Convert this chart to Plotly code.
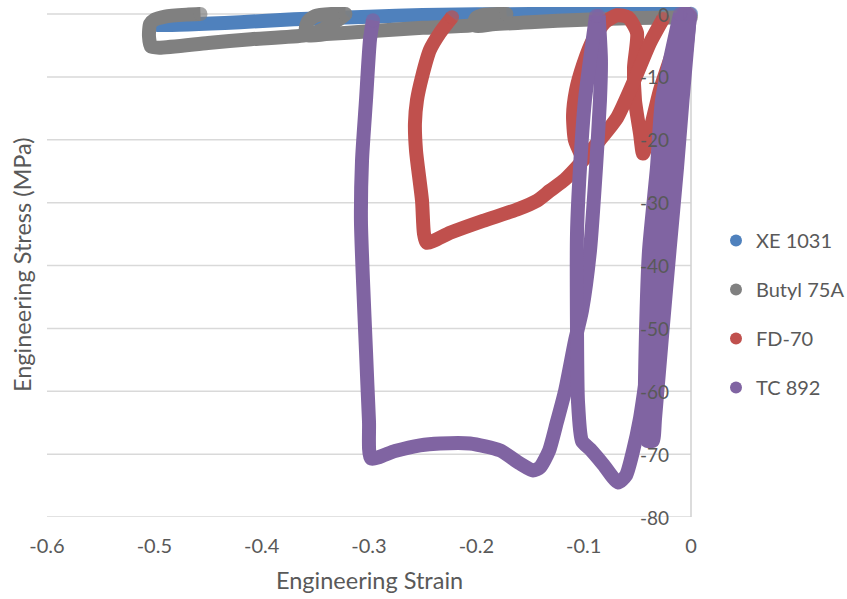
import plotly.graph_objects as go

# ---------------- data (Engineering Strain, Engineering Stress MPa) ----------------
series_names = ["XE 1031", "Butyl 75A", "FD-70", "TC 892"]
series_colors = ["#4F81BD", "#808080", "#C0504D", "#8064A2"]

xe_strain = [-0.503, -0.495, -0.42, -0.37, -0.30, -0.25, -0.15, -0.08, 0.0]
xe_stress = [-1.6, -1.75, -1.3, -0.85, -0.45, -0.15, 0.0, 0.05, 0.05]

butyl_strain = [0.0, -0.05, -0.10, -0.15, -0.185, -0.20, -0.202, -0.20, -0.193, -0.18, -0.172, None,
                -0.172, -0.18, -0.19, -0.205, -0.25, -0.30, -0.34, -0.357, -0.359, -0.357, -0.35, -0.335, -0.322, None,
                -0.322, -0.325, -0.335, -0.345, -0.36, -0.41, -0.45, -0.495, -0.503, -0.505, -0.504, -0.50, -0.49, -0.47, -0.457]
butyl_stress = [-0.5, -0.65, -0.9, -1.3, -1.65, -1.9, -1.3, -0.6, -0.15, 0.0, 0.0, None,
                0.0, -0.4, -1.2, -1.8, -2.2, -2.75, -3.2, -3.4, -2.5, -1.2, -0.3, 0.0, 0.0, None,
                0.0, -0.5, -1.6, -2.6, -3.4, -4.0, -4.6, -5.35, -5.2, -3.5, -1.6, -0.9, -0.4, -0.1, 0.0]

fd_strain = [-0.0028, -0.0102, -0.0196, -0.0289, -0.0382, -0.0447, -0.0475, -0.0522, -0.0531, -0.0503, -0.0587,
             -0.0689, -0.0801, -0.0913, -0.1006, -0.1071, -0.1099, -0.1081, -0.1006, None,
             -0.2227, -0.2339, -0.2432, -0.2506, -0.2553, -0.2572, -0.2562, -0.2544, -0.2506, -0.2488, -0.246,
             -0.2245, -0.1938, -0.1621, -0.1435, -0.1314, -0.1174, -0.1034, -0.0848, -0.0689, -0.054, -0.0382, -0.0261]
fd_stress = [0.0, -2.6, -7.3, -12.1, -18.5, -22.2, -19.0, -13.7, -8.5, -3.0, -0.5,
             -0.2, -1.3, -4.1, -8.1, -12.1, -16.1, -20.1, -23.0, None,
             -0.5, -3.0, -5.7, -10.0, -13.7, -17.4, -21.7, -24.4, -29.7, -34.9, -36.4,
             -34.8, -32.9, -31.1, -29.7, -28.1, -26.3, -23.8, -20.0, -16.5, -11.0, -4.6, -0.8]

tc_strain = [-0.086, -0.0839, -0.0848, -0.0885, -0.0941, -0.1016, -0.1081, -0.1174, -0.1248, -0.1323, -0.1407,
             -0.1472, -0.1593, -0.178, -0.2059, -0.2339, -0.2525, -0.2758, -0.2981, -0.300, -0.3028, -0.3056,
             -0.3075, -0.3065, -0.3028, -0.2991, -0.2963, None,
             -0.0885, -0.0941, -0.0988, -0.1034, -0.1062, -0.1062, -0.1053, -0.1016, -0.0941, -0.082, -0.068,
             -0.0606, -0.054, -0.0475, -0.0382, -0.0289, -0.0214, -0.014, -0.0065, -0.0009, None,
             -0.0009, -0.0079, -0.0130, -0.0200, -0.0266, -0.0335, -0.0354,
             -0.0373, -0.0366, -0.0317, -0.0264, -0.0193, -0.0143, -0.0040,
             -0.0072, -0.0207, -0.0254, -0.0328, -0.0368, -0.0398, -0.0391,
             -0.0410, -0.0429, -0.0419, -0.0391, -0.0317, -0.0270, -0.0102]
tc_stress = [-0.3, -7.3, -13.7, -24.4, -37.6, -47.2, -52.0, -60.0, -64.8, -69.5, -72.1,
             -72.6, -71.5, -69.4, -68.3, -68.3, -68.6, -69.5, -70.7, -64.8, -53.6, -42.4,
             -32.9, -23.3, -13.7, -4.1, -1.0, None,
             -0.3, -7.3, -13.7, -24.4, -34.9, -50.4, -61.6, -67.9, -69.2, -71.6, -74.5,
             -73.4, -69.5, -64.3, -53.6, -42.9, -31.3, -20.1, -8.9, -0.3, None,
             0.0, -13.7, -24.4, -37.6, -50.4, -64.3, -67.9,
             -67.9, -64.3, -50.4, -37.6, -24.4, -13.7, 0.0,
             0.0, -13.7, -24.4, -37.6, -50.4, -64.3, -67.9,
             -67.9, -64.3, -50.4, -37.6, -24.4, -13.7, 0.0]

x_tick_vals = [-0.6, -0.5, -0.4, -0.3, -0.2, -0.1, 0.0]
x_tick_text = ["-0.6", "-0.5", "-0.4", "-0.3", "-0.2", "-0.1", "0"]
y_tick_vals = [0, -10, -20, -30, -40, -50, -60, -70, -80]
y_tick_text = ["0", "-10", "-20", "-30", "-40", "-50", "-60", "-70", "-80"]
x_min, x_max = -0.6, 0.0
y_min, y_max = -80, 0

FONT = "Lato, 'Open Sans', sans-serif"
TEXT_COLOR = "#595959"
GRID = "#d9d9d9"
LW = 14

W, H = 847, 599
# nominal plot box (pixels) for the -0.6..0 / -80..0 region
BOX_L, BOX_R, BOX_T, BOX_B = 47, 691, 14, 517
PAD_R, PAD_T = 9, 7   # let thick strokes spill past the 0 lines like the original
px_per_x = (BOX_R - BOX_L) / (x_max - x_min)
px_per_y = (BOX_B - BOX_T) / (y_max - y_min)
ML, MR, MT, MB = BOX_L, W - BOX_R - PAD_R, BOX_T - PAD_T, H - BOX_B
plot_w = W - ML - MR
plot_h = H - MT - MB


def px_to_paper_x(px):
    return (px - ML) / plot_w


def px_to_paper_y(py):
    return (H - MB - py) / plot_h


def end_sizes(xs, size):
    """round caps: marker only at the ends of each segment"""
    out = []
    n = len(xs)
    for i, v in enumerate(xs):
        if v is None:
            out.append(0)
            continue
        first = i == 0 or xs[i - 1] is None
        last = i == n - 1 or xs[i + 1] is None
        out.append(size if (first or last) else 0)
    return out


fig = go.Figure()
all_x = [xe_strain, butyl_strain, fd_strain, tc_strain]
all_y = [xe_stress, butyl_stress, fd_stress, tc_stress]
for name, color, xs, ys in zip(series_names, series_colors, all_x, all_y):
    fig.add_trace(go.Scatter(
        x=xs, y=ys, mode="lines+markers", name=name, showlegend=False,
        line=dict(color=color, width=LW, shape="spline", smoothing=0.6),
        marker=dict(color=color, size=end_sizes(xs, LW), line=dict(width=0)),
        hoverinfo="skip", connectgaps=False, cliponaxis=False,
    ))
for i, (name, color) in enumerate(zip(series_names, series_colors)):
    fig.add_trace(go.Scatter(
        x=[None], y=[None], mode="markers", name=name, legendgroup=f"g{i}",
        marker=dict(color=color, size=11),
    ))

shapes = []
for v in y_tick_vals:
    shapes.append(dict(type="line", xref="x", yref="y", x0=x_min, x1=x_max, y0=v, y1=v,
                       line=dict(color=GRID, width=1.5), layer="below"))
shapes.append(dict(type="line", xref="x", yref="y", x0=0, x1=0, y0=y_min, y1=y_max,
                   line=dict(color="#d0d0d0", width=1.5), layer="below"))

annotations = [
    dict(text="Engineering Strain", x=px_to_paper_x((BOX_L + BOX_R) / 2), xref="paper", xanchor="center",
         y=px_to_paper_y(580), yref="paper", yanchor="middle", showarrow=False,
         font=dict(size=23.5, color=TEXT_COLOR, family=FONT)),
    dict(text="Engineering Stress (MPa)", x=px_to_paper_x(22), xref="paper", xanchor="center",
         y=px_to_paper_y(265), yref="paper", yanchor="middle",
         textangle=-90, showarrow=False, font=dict(size=23.5, color=TEXT_COLOR, family=FONT)),
]
# y tick labels drawn just left of the vertical axis at strain 0
for v, t in zip(y_tick_vals, y_tick_text):
    annotations.append(dict(
        text=t, x=px_to_paper_x(671), xref="paper", xanchor="right",
        y=v, yref="y", yanchor="middle", showarrow=False,
        font=dict(size=19, color=TEXT_COLOR, family=FONT),
    ))

fig.update_layout(
    width=W, height=H,
    margin=dict(l=ML, r=MR, t=MT, b=MB, autoexpand=False),
    paper_bgcolor="white", plot_bgcolor="white",
    font=dict(family=FONT, color=TEXT_COLOR, size=18),
    showlegend=True,
    legend=dict(
        xref="container", yref="container",
        x=716 / W, xanchor="left", y=1 - 314 / H, yanchor="middle",
        font=dict(size=20, color=TEXT_COLOR, family=FONT),
        tracegroupgap=20, itemsizing="constant",
        bgcolor="rgba(0,0,0,0)",
    ),
    xaxis=dict(
        range=[x_min, x_max + PAD_R / px_per_x], tickvals=x_tick_vals, ticktext=x_tick_text,
        showgrid=False, zeroline=False, showline=False, ticks="",
        ticklabelstandoff=15, tickfont=dict(size=20, color=TEXT_COLOR),
        automargin=False,
    ),
    yaxis=dict(
        range=[y_min, y_max + PAD_T / px_per_y], showticklabels=False,
        showgrid=False, zeroline=False, showline=False,
        ticks="", automargin=False,
    ),
    shapes=shapes,
    annotations=annotations,
)

fig.write_html("out.html")
